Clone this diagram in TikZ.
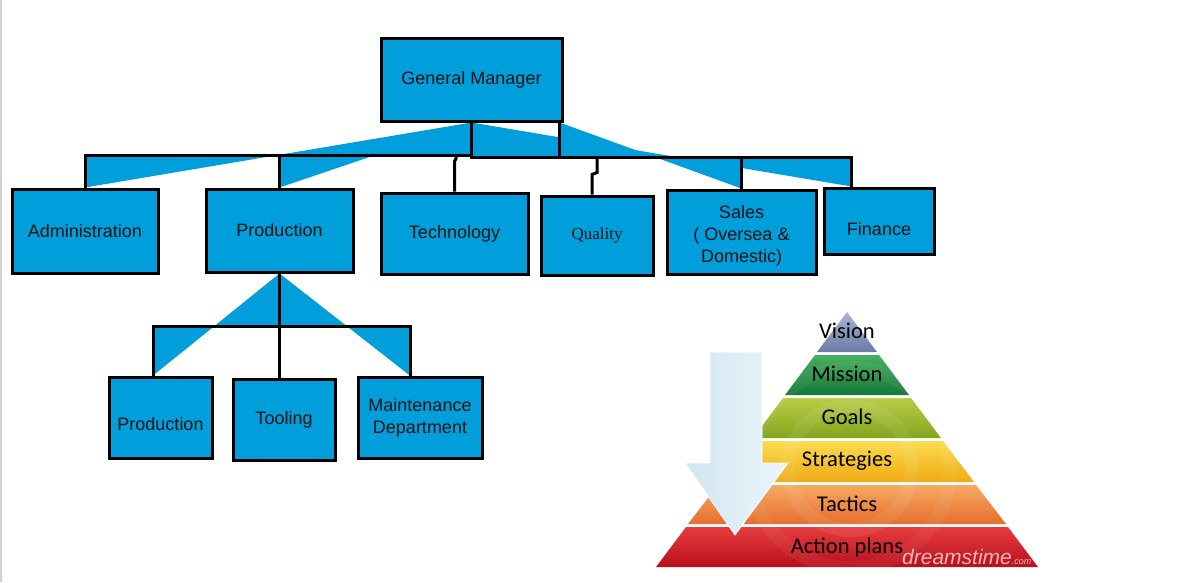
\documentclass[tikz,border=0pt]{standalone}
\usepackage{fontspec}
\setmainfont{Liberation Sans}
\newfontfamily\qualfont{Liberation Serif}
\newfontfamily\pyrfont{Carlito}
\usetikzlibrary{calc,backgrounds}
\pgfdeclarelayer{bgzero}
\pgfsetlayers{bgzero,background,main}
\definecolor{boxblue}{RGB}{0,159,219}
\definecolor{visT}{RGB}{165,180,210}
\definecolor{visB}{RGB}{105,125,165}
\definecolor{misT}{RGB}{70,175,95}
\definecolor{misB}{RGB}{20,120,55}
\definecolor{goaT}{RGB}{185,205,70}
\definecolor{goaB}{RGB}{130,165,30}
\definecolor{strT}{RGB}{250,220,80}
\definecolor{strB}{RGB}{240,170,20}
\definecolor{tacT}{RGB}{245,170,100}
\definecolor{tacB}{RGB}{230,110,45}
\definecolor{actT}{RGB}{230,60,60}
\definecolor{actB}{RGB}{185,15,30}
\definecolor{arrL}{RGB}{208,230,241}
\definecolor{arrR}{RGB}{236,245,250}
\begin{document}
\begin{tikzpicture}[x=1pt,y=-1pt,
  box/.style={draw=black,fill=boxblue,line width=3pt,inner sep=0pt,align=center,
    font=\fontsize{18}{22}\selectfont,text=black!92},
  txt/.style={inner sep=0pt,align=center,font=\fontsize{18}{22}\selectfont,text=black!92},
  conn/.style={draw=black,line width=3pt,line join=miter},
  wedge/.style={fill=boxblue},
  ptxt/.style={inner sep=0pt,font=\pyrfont\fontsize{22.5}{24}\selectfont,text=black}]
\useasboundingbox (0,0) rectangle (1182,582);
\begin{pgfonlayer}{bgzero}
  \fill[white] (0,0) rectangle (1182,582);
  \draw[black!18,line width=1.5pt] (0.75,0) -- (0.75,582);
\end{pgfonlayer}

% ---------- boxes ----------
\node[box,minimum width=181pt,minimum height=83pt] (gm) at (471.5,79.5) {General Manager};
\node[box,minimum width=146pt,minimum height=84pt] (adm) at (85,231) {Administration};
\node[box,minimum width=147pt,minimum height=83pt] (prod) at (279.5,230.5) {Production};
\node[box,minimum width=147pt,minimum height=81pt] (tech) at (454.5,233.5) {Technology};
\node[box,minimum width=112pt,minimum height=79pt,font=\qualfont\fontsize{17}{20}\selectfont] (qual) at (597,235.5) {Quality};
\node[box,minimum width=149pt,minimum height=84pt] (sales) at (741.5,232) {};
\node[txt] (salestxt) at (741.5,236) {Sales\\( Oversea \&\\Domestic)};
\node[box,minimum width=110pt,minimum height=66pt] (fin) at (879,221) {};
\node[txt] (fintxt) at (879,229) {Finance};
\node[box,minimum width=103pt,minimum height=81pt] (p2) at (160.5,417.5) {};
\node[txt] (p2txt) at (160.5,424) {Production};
\node[box,minimum width=102pt,minimum height=81pt] (tool) at (284,419.5) {Tooling};
\node[box,minimum width=124pt,minimum height=81pt] (mt) at (420,418) {Maintenance\\Department};

% ---------- connectors ----------
\begin{pgfonlayer}{background}
  \coordinate (busL) at (0,155);
  \coordinate (busR) at (0,157);
  \coordinate (busP) at (0,326);
  \coordinate (gmB) at ($(gm.south east)+(-4,0)$);
  \coordinate (finC) at ($(fin.north west)+(29,0)$);
  \coordinate (p2C) at ($(p2.north west)+(45.5,0)$);
  \coordinate (mtC) at ($(mt.north west)+(54,0)$);
  % filled wedges
  \fill[wedge] (adm.north |- busL) -- (adm.north) -- (gm.south) -- (gm.south |- busL) -- cycle;
  \fill[wedge] (prod.north |- busL) -- (prod.north) -- (gm.south) -- (gm.south |- busL) -- cycle;
  \fill[wedge] (gm.south |- busR) -- (gm.south) -- (finC) -- (finC |- busR) -- cycle;
  \fill[wedge] (gmB |- busR) -- (gmB) -- (sales.north) -- (sales.north |- busR) -- cycle;
  \fill[wedge] (p2C |- busP) -- (p2C) -- (prod.south) -- (prod.south |- busP) -- cycle;
  \fill[wedge] (mtC |- busP) -- (mtC) -- (prod.south) -- (prod.south |- busP) -- cycle;
  % lines
  \draw[conn] (adm.north) -- (adm.north |- busL) -- (gm.south |- busL);
  \draw[conn] (prod.north) -- (prod.north |- busL);
  \draw[conn] (tech.north) -- ++(0,-30) -- ++(1.5,-3) -- ($(tech.north |- busL)+(1.5,0)$);
  \draw[conn] (gm.south) -- (gm.south |- busR) -- (finC |- busR) -- (finC);
  \draw[conn] (gmB) -- (gmB |- busR);
  \draw[conn] (sales.north) -- (sales.north |- busR);
  \draw[conn] ($(qual.north)+(-5,0)$) -- ++(0,-20) -- ++(5,-2) -- (qual.north |- busR);
  \draw[conn] (prod.south) -- (prod.south |- tool.north);
  \draw[conn] (p2C) -- (p2C |- busP) -- (mtC |- busP) -- (mtC);
\end{pgfonlayer}

% ---------- pyramid ----------
\shade[top color=visT,bottom color=visB] (847,312) -- (877,352) -- (817,352) -- cycle;
\shade[top color=misT,bottom color=misB] (815,355) -- (879,355) -- (909,395) -- (785,395) -- cycle;
\shade[top color=goaT,bottom color=goaB] (783,398) -- (911,398) -- (941,438) -- (753,438) -- cycle;
\shade[top color=strT,bottom color=strB] (750,441) -- (943,441) -- (974,482) -- (720,482) -- cycle;
\shade[top color=tacT,bottom color=tacB] (718,485) -- (976,485) -- (1006,524) -- (688,524) -- cycle;
\shade[top color=actT,bottom color=actB] (686,527) -- (1008,527) -- (1038,567) -- (656,567) -- cycle;
\begin{scope}
  \clip (847,312) -- (1038,567) -- (656,567) -- cycle;
  \draw[white,opacity=0.07,line width=14pt] (850,468) circle (62);
  \draw[white,opacity=0.05,line width=14pt] (850,468) circle (100);
\end{scope}
% arrow
\shade[left color=arrL,right color=arrR,draw=white,line width=0.8pt]
  (710,352) -- (762,352) -- (762,463) -- (788,463) -- (735,535) -- (685,463) -- (710,463) -- cycle;
% pyramid labels
\node[ptxt] (lvis) at (847,331) {Vision};
\node[ptxt] (lmis) at (847,374) {Mission};
\node[ptxt] (lgoa) at (847,417) {Goals};
\node[ptxt] (lstr) at (847,461) {Strategies};
\node[ptxt] (ltac) at (847,504) {Tactics};
\node[ptxt] (lact) at (847,547) {Action plans};
\node[inner sep=0pt,anchor=base west,text=red!12!white,opacity=0.8,
  font=\fontsize{21}{21}\selectfont\itshape] (wm) at (902,564) {dreamstime{\fontsize{9}{9}\selectfont.com}};
\end{tikzpicture}
\end{document}
